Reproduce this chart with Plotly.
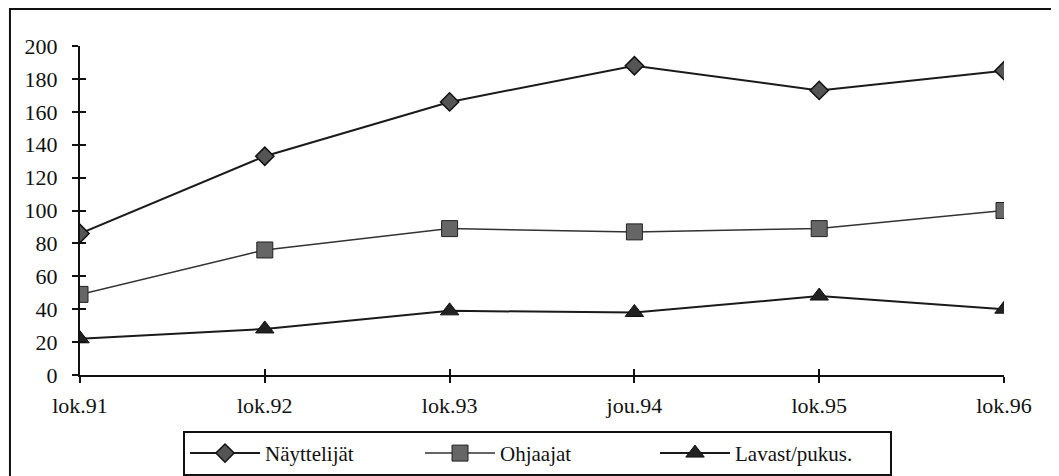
import plotly.graph_objects as go

categories = ["lok.91", "lok.92", "lok.93", "jou.94", "lok.95", "lok.96"]
nayttelijat = [86, 133, 166, 188, 173, 185]
ohjaajat = [49, 76, 89, 87, 89, 100]
lavast = [22, 28, 39, 38, 48, 40]
y_ticks = [0, 20, 40, 60, 80, 100, 120, 140, 160, 180, 200]

FONT = "Liberation Serif"

fig = go.Figure()
fig.add_trace(go.Scatter(
    x=categories, y=nayttelijat, name="Näyttelijät", mode="lines+markers",
    line=dict(color="#1a1a1a", width=2),
    marker=dict(symbol="diamond", size=14, color="#555", line=dict(color="#111", width=1.5)),
))
fig.add_trace(go.Scatter(
    x=categories, y=ohjaajat, name="Ohjaajat", mode="lines+markers",
    line=dict(color="#333", width=1.5),
    marker=dict(symbol="square", size=16, color="#666", line=dict(color="#222", width=1)),
))
fig.add_trace(go.Scatter(
    x=categories, y=lavast, name="Lavast/pukus.", mode="lines+markers",
    line=dict(color="#1a1a1a", width=2),
    marker=dict(symbol="triangle-up", size=16, color="#222", line=dict(color="#111", width=1)),
))
# invisible trace to carry the inner tick marks (overlay axes)
fig.add_trace(go.Scatter(x=categories, y=[None] * len(categories), xaxis="x2", yaxis="y2",
                         showlegend=False, hoverinfo="skip", mode="lines"))

fig.update_layout(
    width=1059, height=476,
    margin=dict(l=72, r=63, t=38, b=109, autoexpand=False),
    paper_bgcolor="white", plot_bgcolor="white",
    font=dict(family=FONT, size=22, color="#111"),
    showlegend=True,
    legend=dict(
        orientation="h", x=0.1115, y=-0.17, xanchor="left", yanchor="top",
        bordercolor="#111", borderwidth=2, bgcolor="white",
        font=dict(family=FONT, size=21, color="#111"),
        itemwidth=70, entrywidth=150, entrywidthmode="pixels",
        itemclick=False, itemdoubleclick=False,
    ),
    xaxis=dict(
        type="category", range=[0, 5], showgrid=False, zeroline=False,
        showline=True, linecolor="#111", linewidth=2,
        ticks="outside", ticklen=6, tickwidth=2, tickcolor="#111",
        ticklabelstandoff=4,
        tickfont=dict(family=FONT, size=22, color="#111"),
    ),
    yaxis=dict(
        range=[0, 200], tickvals=y_ticks, showgrid=False, zeroline=False,
        showline=True, linecolor="#111", linewidth=2,
        ticks="outside", ticklen=6, tickwidth=2, tickcolor="#111",
        ticklabelstandoff=10,
        tickfont=dict(family=FONT, size=22, color="#111"),
    ),
    xaxis2=dict(
        type="category", range=[0, 5], overlaying="x", anchor="y2", side="bottom",
        showgrid=False, zeroline=False, showline=False, showticklabels=False,
        ticks="inside", ticklen=6, tickwidth=2, tickcolor="#111",
    ),
    yaxis2=dict(
        range=[0, 200], tickvals=y_ticks, overlaying="y", anchor="x2", side="left",
        showgrid=False, zeroline=False, showline=False, showticklabels=False,
        ticks="inside", ticklen=6, tickwidth=2, tickcolor="#111",
    ),
    shapes=[dict(
        type="rect", xref="paper", yref="paper",
        x0=-0.0758, x1=1.0584, y0=-0.6, y1=1.1125,
        line=dict(color="#111", width=2), fillcolor="rgba(0,0,0,0)", layer="below",
    )],
)

fig.write_html("out.html")
